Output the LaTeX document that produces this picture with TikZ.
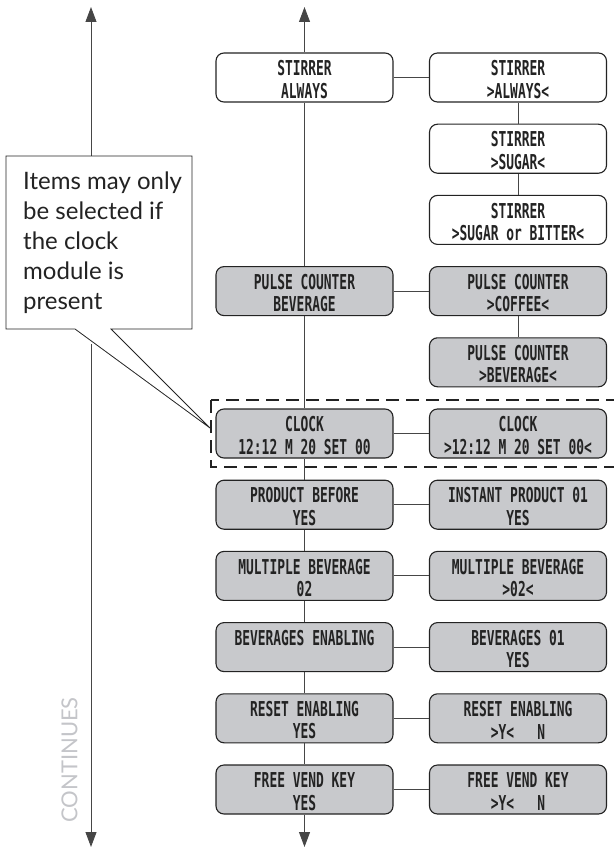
\documentclass[tikz,border=0pt]{standalone}
\usepackage{fontspec}
\usetikzlibrary{arrows.meta}
\newfontfamily\boxfont{DejaVu Sans Mono}[FakeStretch=0.63]
\newfontfamily\notefont{Lato}
\definecolor{boxgray}{RGB}{200,201,204}
\definecolor{ink}{RGB}{35,35,35}
\definecolor{linegray}{RGB}{70,70,70}
\definecolor{contgray}{RGB}{196,197,201}
\newcommand{\up}{\rule{0pt}{19pt}}
\begin{document}
\begin{tikzpicture}[x=1pt,y=-1pt,
  menubox/.style={draw=ink, line width=1.1pt, rounded corners=8pt,
    minimum width=177pt, minimum height=49pt, inner sep=0pt, align=center,
    font=\boxfont\bfseries\fontsize{20.5}{22.5}\selectfont, text=ink},
  whitebox/.style={menubox, fill=white},
  graybox/.style={menubox, fill=boxgray},
  link/.style={draw=linegray, line width=0.9pt},
  arrowline/.style={link, -{Triangle[width=11pt,length=15pt]}},
  notebox/.style={draw=ink, line width=0.8pt, fill=white, line join=miter},
  frame/.style={draw=ink, line width=1.6pt, dash pattern=on 13pt off 7pt}
]
\useasboundingbox (0,0) rectangle (613,848);

% coordinates
\coordinate (mtop) at (304.5,7);
\coordinate (mbot) at (304.5,847);
\coordinate (ltop) at (91,7);
\coordinate (lmid1) at (91,156);
\coordinate (lmid2) at (91,344);
\coordinate (lbot) at (91,847);

% dashed frame
\draw[frame] (211,400) rectangle (618,467);

% left column
\node[whitebox] (L0) at (304.5,77.5) {\up STIRRER\\ALWAYS};
\node[graybox] (L3) at (304.5,291.1) {\up PULSE COUNTER\\BEVERAGE};
\node[graybox] (L5) at (304.5,433.5) {\up CLOCK\\12:12 M 20 SET 00};
\node[graybox] (L6) at (304.5,504.7) {\up PRODUCT BEFORE\\YES};
\node[graybox] (L7) at (304.5,575.9) {\up MULTIPLE BEVERAGE\\02};
\node[graybox] (L8) at (304.5,647.1) {\up BEVERAGES ENABLING\\\mbox{}};
\node[graybox] (L9) at (304.5,718.3) {\up RESET ENABLING\\YES};
\node[graybox] (L10) at (304.5,789.5) {\up FREE VEND KEY\\YES};

% right column
\node[whitebox] (R0) at (518,77.5) {\up STIRRER\\>ALWAYS<};
\node[whitebox] (R1) at (518,148.7) {\up STIRRER\\>SUGAR<};
\node[whitebox] (R2) at (518,219.9) {\up STIRRER\\>SUGAR or BITTER<};
\node[graybox] (R3) at (518,291.1) {\up PULSE COUNTER\\>COFFEE<};
\node[graybox] (R4) at (518,362.3) {\up PULSE COUNTER\\>BEVERAGE<};
\node[graybox] (R5) at (518,433.5) {\up CLOCK\\>12:12 M 20 SET 00<};
\node[graybox] (R6) at (518,504.7) {\up INSTANT PRODUCT 01\\YES};
\node[graybox] (R7) at (518,575.9) {\up MULTIPLE BEVERAGE\\>02<};
\node[graybox] (R8) at (518,647.1) {\up BEVERAGES 01\\YES};
\node[graybox] (R9) at (518,718.3) {\up RESET ENABLING\\>Y<\ \ \ N};
\node[graybox] (R10) at (518,789.5) {\up FREE VEND KEY\\>Y<\ \ \ N};

% main vertical connectors
\draw[arrowline] (L0.north) -- (mtop);
\draw[link] (L0.south) -- (L3.north);
\draw[link] (L3.south) -- (L5.north);
\draw[link] (L5.south) -- (L6.north);
\draw[link] (L6.south) -- (L7.north);
\draw[link] (L7.south) -- (L8.north);
\draw[link] (L8.south) -- (L9.north);
\draw[link] (L9.south) -- (L10.north);
\draw[arrowline] (L10.south) -- (mbot);

% right vertical connectors
\draw[link] (R0.south) -- (R1.north);
\draw[link] (R1.south) -- (R2.north);
\draw[link] (R3.south) -- (R4.north);

% horizontal connectors
\foreach \a/\b in {L0/R0,L3/R3,L5/R5,L6/R6,L7/R7,L8/R8,L9/R9,L10/R10}
  \draw[link] (\a.east) -- (\b.west);

% left continuation line
\draw[arrowline] (lmid1) -- (ltop);
\draw[arrowline] (lmid2) -- (lbot);

% callout
\draw[notebox] (6,156) -- (192,156) -- (192,329) -- (111,329) -- (210,428)
  -- (75,329) -- (6,329) -- cycle;
\node[anchor=north west, align=left, inner sep=0pt, text=ink,
  font=\notefont\fontsize{24}{30}\selectfont] (note) at (23,172)
  {Items may only\\be selected if\\the clock\\module is\\present};

% continues label
\node[rotate=90, inner sep=0pt, text=contgray,
  font=\notefont\fontsize{22}{22}\selectfont] (cont) at (69.5,760) {CONTINUES};
\end{tikzpicture}
\end{document}
